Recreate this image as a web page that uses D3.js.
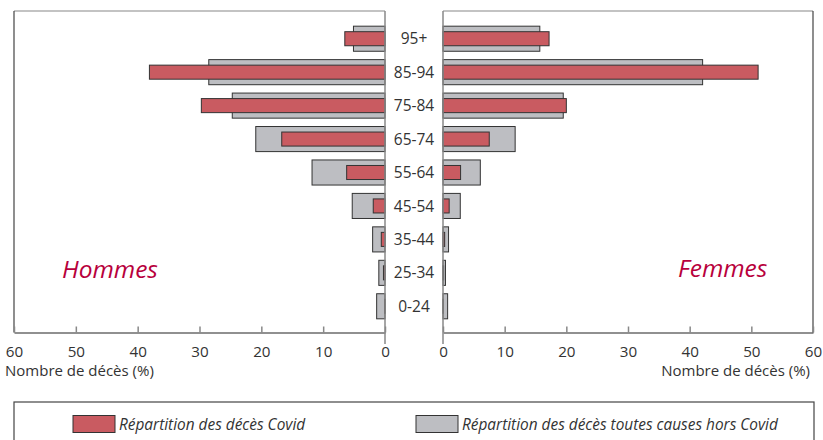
<!DOCTYPE html>
<html>
<head>
<meta charset="utf-8">
<script src="https://cdn.jsdelivr.net/npm/d3@7"></script>
<style>
  html, body { margin: 0; padding: 0; background: #fff; }
  svg { display: block; }
  text { font-family: "Open Sans", "DejaVu Sans", sans-serif; }
</style>
</head>
<body>
<svg id="chart" width="823" height="440"></svg>
<script>
// ---- Data ----
const categories = ["95+", "85-94", "75-84", "65-74", "55-64", "45-54", "35-44", "25-34", "0-24"];
const hommesCovid = [6.5, 38.1, 29.7, 16.7, 6.2, 1.9, 0.6, 0.25, 0.05];
const hommesHorsCovid = [5.1, 28.5, 24.7, 20.9, 11.8, 5.3, 2.0, 1.0, 1.35];
const femmesCovid = [17.2, 51.1, 20.0, 7.5, 2.85, 1.0, 0.27, 0.1, 0.03];
const femmesHorsCovid = [15.7, 42.1, 19.5, 11.7, 6.05, 2.8, 0.9, 0.4, 0.75];
const tickValues = [0, 10, 20, 30, 40, 50, 60];
const axisTitle = "Nombre de décès (%)";
const legendLabels = ["Répartition des décès Covid", "Répartition des décès toutes causes hors Covid"];
const panelLabels = ["Hommes", "Femmes"];

// ---- Styles ----
const RED = "#c95b61", GREY = "#bdbec2", STROKE = "#333", LABEL = "#b8003c";
const svg = d3.select("#chart");

const plotTop = 11, plotBottom = 332.5;
const y = d3.scaleBand().domain(categories).range([22, 323]);
const xL = d3.scaleLinear().domain([60, 0]).range([14, 385]);
const xR = d3.scaleLinear().domain([0, 60]).range([443, 813]);

// frames
function frame(x0, x1, outerX) {
  svg.append("line").attr("x1", x0).attr("x2", x1).attr("y1", plotTop).attr("y2", plotTop)
    .attr("stroke", "#888").attr("stroke-width", 1.2);
  svg.append("line").attr("x1", outerX).attr("x2", outerX).attr("y1", plotTop).attr("y2", plotBottom)
    .attr("stroke", "#444").attr("stroke-width", 1.2);
}
frame(14, 385, 14);
frame(443, 813, 813);

// bars
function bars(data, xs, side, fill, frac) {
  const h = y.step() * frac;
  svg.append("g").selectAll("rect").data(data).join("rect")
    .attr("x", (d) => side === "L" ? xs(d) : xs(0))
    .attr("width", (d) => Math.abs(xs(d) - xs(0)))
    .attr("y", (d, i) => y(categories[i]) + y.step() / 2 - h / 2)
    .attr("height", h)
    .attr("fill", fill).attr("stroke", STROKE).attr("stroke-width", 1);
}
bars(hommesHorsCovid, xL, "L", GREY, 0.75);
bars(hommesCovid, xL, "L", RED, 0.42);
bars(femmesHorsCovid, xR, "R", GREY, 0.75);
bars(femmesCovid, xR, "R", RED, 0.42);

// axes
function axis(xs) {
  const g = svg.append("g").attr("transform", `translate(0,${plotBottom})`)
    .call(d3.axisBottom(xs).tickValues(tickValues).tickFormat(d3.format("d"))
      .tickSizeInner(-6).tickSizeOuter(0).tickPadding(13.5));
  g.select(".domain").attr("stroke", "#222").attr("stroke-width", 1.2);
  g.selectAll(".tick line").attr("stroke", "#888").attr("stroke-width", 1.5);
  g.selectAll(".tick text").attr("font-size", 15.2).attr("fill", "#333")
    .attr("font-family", "'Open Sans', sans-serif");
}
axis(xL);
axis(xR);

// zero lines (vertical axes)
[xL(0), xR(0)].forEach((xx) => {
  svg.append("line").attr("x1", xx).attr("x2", xx).attr("y1", plotTop).attr("y2", 344)
    .attr("stroke", "#888").attr("stroke-width", 1.5);
});

// category labels
svg.append("g").selectAll("text").data(categories).join("text")
  .attr("x", 414).attr("y", (d) => y(d) + y.step() / 2)
  .attr("dy", "0.36em").attr("text-anchor", "middle")
  .attr("font-size", 15.5).attr("fill", "#333").text((d) => d);

// axis titles
svg.append("text").attr("x", 5).attr("y", 376).attr("font-size", 15).attr("fill", "#333").text(axisTitle);
svg.append("text").attr("x", 810).attr("y", 376).attr("text-anchor", "end")
  .attr("font-size", 15).attr("fill", "#333").text(axisTitle);

// panel labels
svg.append("text").attr("x", 62).attr("y", 278).attr("font-size", 24.5).attr("font-style", "italic")
  .attr("fill", LABEL).text(panelLabels[0]);
svg.append("text").attr("x", 678).attr("y", 277).attr("font-size", 24.5).attr("font-style", "italic")
  .attr("fill", LABEL).text(panelLabels[1]);

// legend
svg.append("rect").attr("x", 14).attr("y", 402).attr("width", 800).attr("height", 60)
  .attr("fill", "none").attr("stroke", "#444").attr("stroke-width", 1.2);
const leg = [{x: 73, fill: RED, label: legendLabels[0]}, {x: 416, fill: GREY, label: legendLabels[1]}];
leg.forEach((l) => {
  svg.append("rect").attr("x", l.x).attr("y", 415.5).attr("width", 42).attr("height", 17)
    .attr("fill", l.fill).attr("stroke", STROKE).attr("stroke-width", 1);
  svg.append("text").attr("x", l.x + 46).attr("y", 430).attr("font-size", 15.4)
    .attr("font-style", "italic").attr("fill", "#333").text(l.label);
});
</script>
</body>
</html>
